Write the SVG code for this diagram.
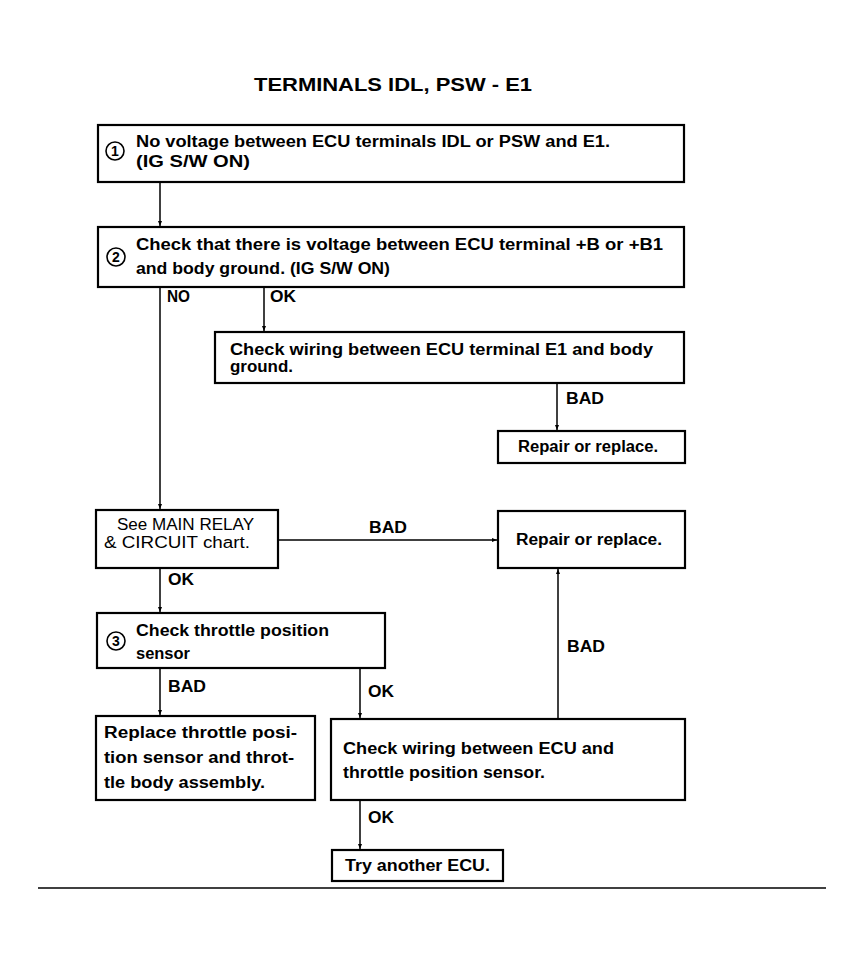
<svg xmlns="http://www.w3.org/2000/svg" width="863" height="965" viewBox="0 0 863 965">
<style>
.box{fill:#fff;stroke:#000;stroke-width:2.2}
.t{font-family:"Liberation Sans",Arial,sans-serif;font-weight:bold;font-size:16px;fill:#000}
.n{font-family:"Liberation Sans",Arial,sans-serif;font-size:16px;fill:#000}
.c{fill:none;stroke:#000;stroke-width:1.6}
.cn{font-family:"Liberation Sans",Arial,sans-serif;font-weight:bold;font-size:14px;fill:#000;text-anchor:middle}
.ln{fill:none;stroke:#000;stroke-width:1.5}
</style>
<defs>
<marker id="ah" viewBox="0 0 10 10" refX="10" refY="5" markerWidth="5" markerHeight="5" orient="auto" markerUnits="userSpaceOnUse">
<path d="M0,1 L10,5 L0,9 z" fill="#000"/>
</marker>
</defs>
<rect width="863" height="965" fill="#fff"/>
<text x="254" y="91" class="t" style="font-size:19px" textLength="278" lengthAdjust="spacingAndGlyphs">TERMINALS IDL, PSW - E1</text>

<g id="connectors">
<line class="ln" x1="160" y1="182" x2="160" y2="226" marker-end="url(#ah)"/>
<line class="ln" x1="160" y1="287" x2="160" y2="509" marker-end="url(#ah)"/>
<text x="167" y="302" class="t" textLength="23" lengthAdjust="spacingAndGlyphs">NO</text>
<line class="ln" x1="264" y1="287" x2="264" y2="331" marker-end="url(#ah)"/>
<text x="270" y="302" class="t" textLength="26" lengthAdjust="spacingAndGlyphs">OK</text>
<line class="ln" x1="557" y1="383" x2="557" y2="430" marker-end="url(#ah)"/>
<text x="566" y="404" class="t" textLength="38" lengthAdjust="spacingAndGlyphs">BAD</text>
<line class="ln" x1="278" y1="540" x2="497" y2="540" marker-end="url(#ah)"/>
<text x="369" y="533" class="t" textLength="38" lengthAdjust="spacingAndGlyphs">BAD</text>
<line class="ln" x1="160" y1="568" x2="160" y2="612" marker-end="url(#ah)"/>
<text x="168" y="585" class="t" textLength="26" lengthAdjust="spacingAndGlyphs">OK</text>
<line class="ln" x1="160" y1="668" x2="160" y2="715" marker-end="url(#ah)"/>
<text x="168" y="692" class="t" textLength="38" lengthAdjust="spacingAndGlyphs">BAD</text>
<line class="ln" x1="360" y1="668" x2="360" y2="718" marker-end="url(#ah)"/>
<text x="368" y="697" class="t" textLength="26" lengthAdjust="spacingAndGlyphs">OK</text>
<line class="ln" x1="558" y1="719" x2="558" y2="569" marker-end="url(#ah)"/>
<text x="567" y="652" class="t" textLength="38" lengthAdjust="spacingAndGlyphs">BAD</text>
<line class="ln" x1="360" y1="800" x2="360" y2="849" marker-end="url(#ah)"/>
<text x="368" y="823" class="t" textLength="26" lengthAdjust="spacingAndGlyphs">OK</text>
</g>

<g id="n1">
<rect class="box" x="98" y="125" width="586" height="57"/>
<circle class="c" cx="115" cy="151" r="9"/>
<text class="cn" x="115" y="156">1</text>
<text class="t" x="136" y="147" textLength="474" lengthAdjust="spacingAndGlyphs">No voltage between ECU terminals IDL or PSW and E1.</text>
<text class="t" x="136" y="167" textLength="114" lengthAdjust="spacingAndGlyphs">(IG S/W ON)</text>
</g>
<g id="n2">
<rect class="box" x="98" y="227" width="586" height="60"/>
<circle class="c" cx="116" cy="257" r="9"/>
<text class="cn" x="116" y="262">2</text>
<text class="t" x="136" y="250" textLength="527" lengthAdjust="spacingAndGlyphs">Check that there is voltage between ECU terminal +B or +B1</text>
<text class="t" x="136" y="274" textLength="254" lengthAdjust="spacingAndGlyphs">and body ground. (IG S/W ON)</text>
</g>
<g id="n3">
<rect class="box" x="215" y="332" width="469" height="51"/>
<text class="t" x="230" y="355" textLength="423" lengthAdjust="spacingAndGlyphs">Check wiring between ECU terminal E1 and body</text>
<text class="t" x="230" y="372" textLength="63" lengthAdjust="spacingAndGlyphs">ground.</text>
</g>
<g id="n4">
<rect class="box" x="498" y="431" width="187" height="32"/>
<text class="t" x="518" y="452" textLength="140" lengthAdjust="spacingAndGlyphs">Repair or replace.</text>
</g>
<g id="n5">
<rect class="box" x="96" y="510" width="182" height="58"/>
<text class="n" x="117" y="530" textLength="137" lengthAdjust="spacingAndGlyphs">See MAIN RELAY</text>
<text class="n" x="104" y="548" textLength="146" lengthAdjust="spacingAndGlyphs">&amp; CIRCUIT chart.</text>
</g>
<g id="n6">
<rect class="box" x="498" y="511" width="187" height="57"/>
<text class="t" x="516" y="545" textLength="146" lengthAdjust="spacingAndGlyphs">Repair or replace.</text>
</g>
<g id="n7">
<rect class="box" x="97" y="613" width="288" height="55"/>
<circle class="c" cx="116" cy="641" r="9"/>
<text class="cn" x="116" y="646">3</text>
<text class="t" x="136" y="636" textLength="193" lengthAdjust="spacingAndGlyphs">Check throttle position</text>
<text class="t" x="136" y="659" textLength="54" lengthAdjust="spacingAndGlyphs">sensor</text>
</g>
<g id="n8">
<rect class="box" x="96" y="716" width="219" height="84"/>
<text class="t" x="104" y="738" textLength="193" lengthAdjust="spacingAndGlyphs">Replace throttle posi-</text>
<text class="t" x="104" y="763" textLength="190" lengthAdjust="spacingAndGlyphs">tion sensor and throt-</text>
<text class="t" x="104" y="788" textLength="161" lengthAdjust="spacingAndGlyphs">tle body assembly.</text>
</g>
<g id="n9">
<rect class="box" x="331" y="719" width="354" height="81"/>
<text class="t" x="343" y="754" textLength="271" lengthAdjust="spacingAndGlyphs">Check wiring between ECU and</text>
<text class="t" x="343" y="778" textLength="202" lengthAdjust="spacingAndGlyphs">throttle position sensor.</text>
</g>
<g id="n10">
<rect class="box" x="332" y="850" width="171" height="31"/>
<text class="t" x="345" y="871" textLength="145" lengthAdjust="spacingAndGlyphs">Try another ECU.</text>
</g>
<line x1="38" y1="888" x2="826" y2="888" stroke="#000" stroke-width="1.5"/>
</svg>
